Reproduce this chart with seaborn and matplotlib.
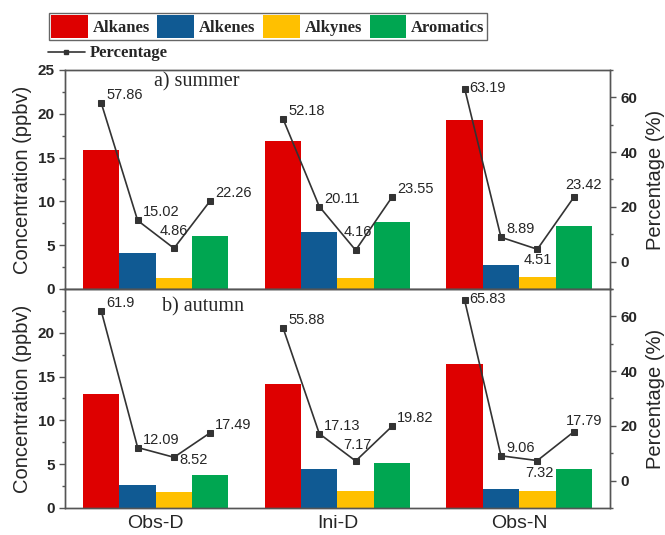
import pandas as pd
import matplotlib
matplotlib.use("Agg")
import matplotlib.pyplot as plt
from matplotlib.lines import Line2D
from matplotlib.patches import Patch
from matplotlib.ticker import MultipleLocator
from matplotlib.font_manager import FontProperties
import seaborn as sns

sites = ["Obs-D", "Ini-D", "Obs-N"]
groups = ["Alkanes", "Alkenes", "Alkynes", "Aromatics"]

# concentration (ppbv), one list per compound group, in site order
summer_alkanes = [15.85, 16.9, 19.3]
summer_alkenes = [4.15, 6.45, 2.7]
summer_alkynes = [1.3, 1.3, 1.35]
summer_aromatics = [6.05, 7.6, 7.2]

autumn_alkanes = [13.0, 14.2, 16.45]
autumn_alkenes = [2.6, 4.4, 2.2]
autumn_alkynes = [1.85, 1.9, 1.95]
autumn_aromatics = [3.75, 5.1, 4.5]

# percentage of each group, one list per site
summer_pct = [[57.86, 15.02, 4.86, 22.26],
              [52.18, 20.11, 4.16, 23.55],
              [63.19, 8.89, 4.51, 23.42]]
autumn_pct = [[61.9, 12.09, 8.52, 17.49],
              [55.88, 17.13, 7.17, 19.82],
              [65.83, 9.06, 7.32, 17.79]]

colors = ["#DE0000", "#105A93", "#FFC000", "#00A651"]
line_color = "#333333"

# label offsets in pixels (dx, dy, ha), default is up-right of the point
default_off = (5, 8, "left")
label_off = {
    ("summer", 0, 2): (0, 17, "center"),
    ("summer", 1, 2): (2, 18, "center"),
    ("summer", 2, 0): (5, 1, "left"),
    ("summer", 2, 2): (0, -11, "center"),
    ("summer", 2, 3): (10, 12, "center"),
    ("autumn", 0, 2): (5, -3, "left"),
    ("autumn", 1, 2): (2, 16, "center"),
    ("autumn", 2, 0): (5, 1, "left"),
    ("autumn", 2, 2): (2, -12, "center"),
    ("autumn", 2, 3): (10, 11, "center"),
}

rows = []
for season, vals in [("summer", [summer_alkanes, summer_alkenes, summer_alkynes, summer_aromatics]),
                     ("autumn", [autumn_alkanes, autumn_alkenes, autumn_alkynes, autumn_aromatics])]:
    for g, v in zip(groups, vals):
        for s, c in zip(sites, v):
            rows.append({"season": season, "site": s, "compound": g, "conc": c})
df = pd.DataFrame(rows)

sns.set_style("ticks")
plt.rcParams["font.family"] = ["Liberation Sans", "DejaVu Sans"]
plt.rcParams["axes.edgecolor"] = "#555555"
plt.rcParams["axes.linewidth"] = 1.0

fig, axes = plt.subplots(2, 1, figsize=(6.65, 5.35), dpi=100, sharex=True)
fig.subplots_adjust(left=0.0977, right=0.9173, top=0.8692, bottom=0.0505, hspace=0)

seasons = [("summer", summer_pct, "a) summer", (0.242, 0.945)),
           ("autumn", autumn_pct, "b) autumn", (0.254, 0.918))]

for ax, (season, pct, title, tpos) in zip(axes, seasons):
    d = df[df["season"] == season]
    sns.barplot(data=d, x="site", y="conc", hue="compound", order=sites,
                hue_order=groups, palette=colors, saturation=1, width=0.8,
                linewidth=0, legend=False, ax=ax)
    ax.set_xlim(-0.5, 2.5)
    ax.set_ylim(0, 25)
    if season == "summer":
        yt = [0, 5, 10, 15, 20, 25]
    else:
        yt = [0, 5, 10, 15, 20]
    ax.set_yticks(yt, labels=[str(t) for t in yt], fontweight="bold", fontsize=11)
    ax.yaxis.set_minor_locator(MultipleLocator(2.5))
    ax.tick_params(axis="y", which="major", direction="out", length=4, width=1, color="#555555")
    ax.tick_params(axis="y", which="minor", direction="out", length=2.5, width=1, color="#555555")
    ax.tick_params(axis="x", length=0, pad=5, labelsize=14)
    ax.set_xlabel("")
    ax.set_ylabel("Concentration (ppbv)", fontsize=14.5, labelpad=4)
    ax.text(tpos[0], tpos[1], title, transform=ax.transAxes, ha="center", va="center",
            fontsize=14.5, family="Liberation Serif")

    # centres of the drawn bars, per site and compound
    xs = [[ax.containers[j][i].get_x() + ax.containers[j][i].get_width() / 2
           for j in range(len(groups))] for i in range(len(sites))]

    ax2 = ax.twinx()
    for i in range(len(sites)):
        sns.lineplot(x=xs[i], y=pct[i], ax=ax2, color=line_color, marker="s",
                     markersize=4.5, markeredgecolor=line_color, linewidth=1.2, sort=False)
        for j in range(len(groups)):
            dx, dy, ha = label_off.get((season, i, j), default_off)
            ax2.annotate(f"{pct[i][j]}", (xs[i][j], pct[i][j]), xytext=(dx, dy),
                         textcoords="offset pixels", ha=ha, va="center", fontsize=10.5)
    ax2.set_ylim(-10, 70)
    rt = [0, 20, 40, 60]
    ax2.set_yticks(rt, labels=[str(t) for t in rt], fontweight="bold", fontsize=11)
    ax2.yaxis.set_minor_locator(MultipleLocator(10))
    ax2.tick_params(axis="y", which="major", direction="out", length=4, width=1, color="#555555")
    ax2.tick_params(axis="y", which="minor", direction="out", length=2.5, width=1, color="#555555")
    ax2.set_ylabel("Percentage (%)", fontsize=14.5, labelpad=6)

leg_font = FontProperties(family="Liberation Serif", weight="bold", size=12)
handles = [Patch(facecolor=c, edgecolor="none") for c in colors]
fig.legend(handles, groups, ncol=4, loc="upper left", bbox_to_anchor=(0.0737, 0.976),
           prop=leg_font, frameon=True, fancybox=False, edgecolor="#666666", framealpha=1,
           handlelength=2.2, handleheight=1.8, handletextpad=0.3, columnspacing=0.45,
           borderpad=0.12, borderaxespad=0)
pct_handle = Line2D([], [], color=line_color, marker="s", markersize=3, linewidth=1.2)
fig.legend([pct_handle], ["Percentage"], loc="upper left", bbox_to_anchor=(0.072, 0.915),
           prop=leg_font, frameon=False, handlelength=2.2, handletextpad=0.3,
           borderpad=0, borderaxespad=0)

fig.savefig("out.png", dpi=100)
